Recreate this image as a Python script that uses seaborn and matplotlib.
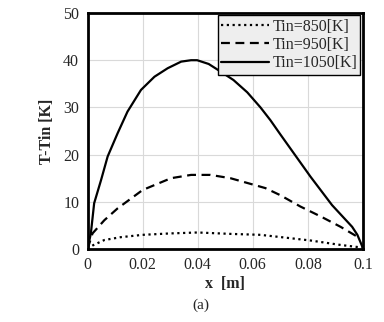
import numpy as np
import pandas as pd
import matplotlib
matplotlib.use("Agg")
import matplotlib.pyplot as plt
import matplotlib.ticker as ticker
import seaborn as sns

sns.set_style("white")
plt.rcParams["font.family"] = ["Liberation Serif", "DejaVu Serif"]

x_850 = [0.0, 0.002, 0.0061, 0.012, 0.02, 0.03, 0.04, 0.052, 0.0628, 0.072, 0.081, 0.092, 0.0998]
t_850 = [0.0, 0.8, 1.9, 2.5, 3.0, 3.3, 3.5, 3.2, 3.0, 2.4, 1.8, 0.85, 0.3]

x_950 = [0.0, 0.0018, 0.0061, 0.0109, 0.02, 0.0303, 0.0376, 0.0446, 0.0519, 0.0604, 0.0646,
         0.070, 0.0773, 0.085, 0.0919, 0.098]
t_950 = [0.0, 3.3, 6.1, 8.6, 12.5, 15.0, 15.7, 15.7, 15.0, 13.6, 12.9, 11.4, 9.0, 6.8, 4.7, 2.6]

x_1050 = [0.0, 0.0012, 0.0024, 0.0049, 0.0073, 0.0109, 0.0145, 0.0194, 0.0243, 0.0291, 0.034,
          0.0376, 0.0398, 0.044, 0.0483, 0.053, 0.058, 0.0628, 0.0664, 0.070, 0.0755, 0.081,
          0.0888, 0.0961, 0.098, 0.0998]
t_1050 = [0.0, 3.3, 9.7, 14.6, 19.6, 24.5, 29.1, 33.7, 36.5, 38.3, 39.7,
          40.0, 40.0, 39.2, 37.6, 35.8, 33.2, 30.0, 27.3, 24.3, 19.8, 15.3,
          9.3, 4.7, 3.0, 0.5]

labels = ["Tin=850[K]", "Tin=950[K]", "Tin=1050[K]"]

df = pd.concat([
    pd.DataFrame({"x": x_850, "T": t_850, "case": labels[0]}),
    pd.DataFrame({"x": x_950, "T": t_950, "case": labels[1]}),
    pd.DataFrame({"x": x_1050, "T": t_1050, "case": labels[2]}),
])

fig = plt.figure(figsize=(3.84, 3.22), dpi=100)
ax = fig.add_axes([0.228, 0.2267, 0.717, 0.7329])

styles = {labels[0]: (0, (1, 1.6)), labels[1]: (0, (4, 2.5)), labels[2]: "-"}
for lab in labels:
    sns.lineplot(data=df[df["case"] == lab], x="x", y="T", ax=ax, color="black",
                 linewidth=1.6, linestyle=styles[lab], label=lab, sort=False)

ax.set_xlim(0, 0.1)
ax.set_ylim(0, 50)
ax.xaxis.set_major_locator(ticker.MultipleLocator(0.02))
ax.xaxis.set_minor_locator(ticker.MultipleLocator(0.004))
ax.yaxis.set_major_locator(ticker.MultipleLocator(10))
ax.yaxis.set_minor_locator(ticker.MultipleLocator(2))
ax.xaxis.set_major_formatter(ticker.FuncFormatter(lambda v, p: f"{v:g}"))
ax.grid(True, which="major", color="#d9d9d9", linewidth=0.8)

ax.tick_params(which="major", direction="inout", length=6, width=1.5, labelsize=11.5, pad=3)
ax.tick_params(which="minor", direction="in", length=3, width=1.5)
for s in ax.spines.values():
    s.set_linewidth(2)
    s.set_color("black")

ax.set_xlabel("x  [m]", fontsize=11.5, fontweight="bold", labelpad=2)
ax.set_ylabel("T-Tin [K]", fontsize=11.5, fontweight="bold", labelpad=6)

leg = ax.legend(loc="upper right", fontsize=11.5, frameon=True, fancybox=False,
                handlelength=3.0, handletextpad=0.2, borderpad=0.2, labelspacing=0.15,
                borderaxespad=0.15)
leg.get_frame().set_facecolor("#eeeeee")
leg.get_frame().set_edgecolor("black")
leg.get_frame().set_alpha(1)
leg.get_frame().set_linewidth(1)

fig.text(0.523, 0.04, "(a)", fontsize=11, ha="center")

fig.savefig("out.png", dpi=100)
